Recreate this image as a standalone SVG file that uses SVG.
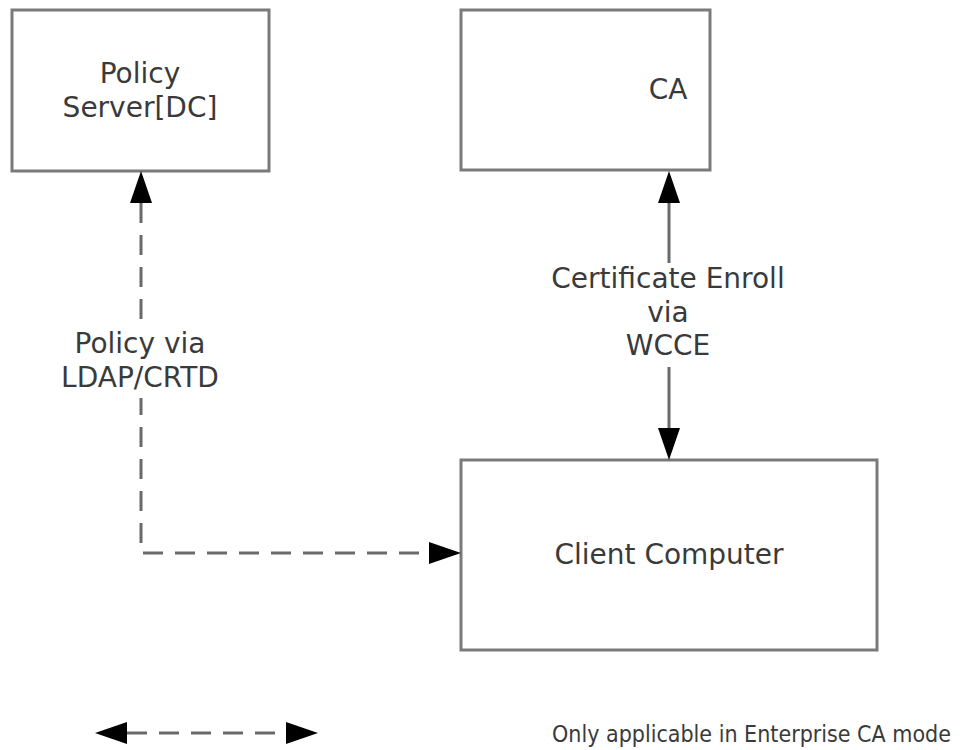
<svg xmlns="http://www.w3.org/2000/svg" width="966" height="750" viewBox="0 0 966 750">
<style>
.box{fill:#fff;stroke:#7a7a7a;stroke-width:3}
.t{font-family:"DejaVu Sans",Verdana,sans-serif;font-size:28px;fill:#3a3a3a;text-anchor:middle}
.ln{fill:none;stroke:#6a6a6a;stroke-width:3}
.dash{stroke-dasharray:20 12}
.lg{font-family:"DejaVu Sans Condensed","DejaVu Sans",sans-serif;font-size:23px;fill:#3a3a3a}
</style>
<defs>
<marker id="ah" markerUnits="userSpaceOnUse" markerWidth="32" markerHeight="22" refX="0" refY="11" orient="auto-start-reverse" overflow="visible">
<path d="M0,0 L32,11 L0,22 z" fill="#000"/>
</marker>
</defs>
<rect width="966" height="750" fill="#fff"/>
<g id="policy-server">
<rect class="box" x="12" y="10" width="257" height="161"/>
<text class="t" x="140" y="83">Policy</text>
<text class="t" x="140" y="117">Server[DC]</text>
</g>
<g id="ca">
<rect class="box" x="461" y="10" width="249" height="160"/>
<text class="t" x="668" y="99">CA</text>
</g>
<g id="client-computer">
<rect class="box" x="461" y="460" width="416" height="190"/>
<text class="t" x="669" y="564">Client Computer</text>
</g>
<g id="connectors">
<path class="ln dash" d="M141,203 L141,553 L429,553" marker-start="url(#ah)" marker-end="url(#ah)"/>
<rect x="60" y="322" width="162" height="76" fill="#fff"/>
<text class="t" x="140" y="353">Policy via</text>
<text class="t" x="140" y="387">LDAP/CRTD</text>
<path class="ln" d="M669,203 L669,263" marker-start="url(#ah)"/>
<path class="ln" d="M669,367 L669,428" marker-end="url(#ah)"/>
<text class="t" x="668" y="288">Certificate Enroll</text>
<text class="t" x="668" y="322">via</text>
<text class="t" x="668" y="355">WCCE</text>
</g>
<g id="legend">
<path class="ln dash" d="M127,733 L286,733" marker-start="url(#ah)" marker-end="url(#ah)"/>
<text class="lg" x="552" y="742">Only applicable in Enterprise CA mode</text>
</g>
</svg>
